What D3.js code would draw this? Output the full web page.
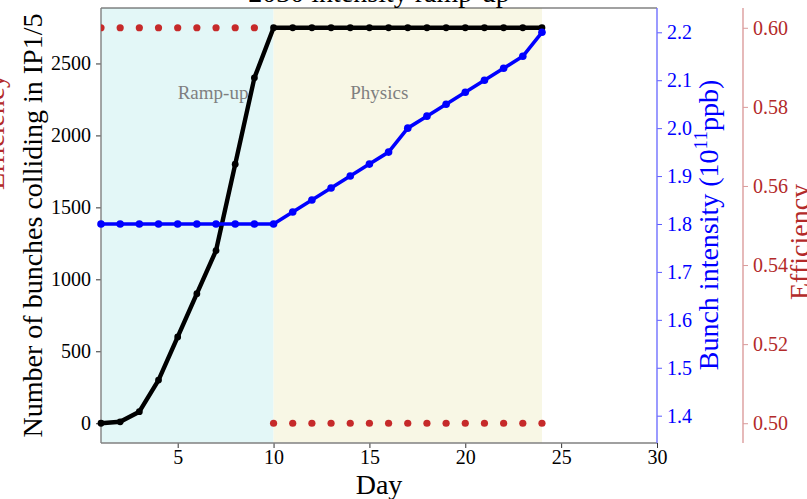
<!DOCTYPE html>
<html>
<head>
<meta charset="utf-8">
<script src="https://cdn.jsdelivr.net/npm/d3@7"></script>
<style>
  html, body { margin: 0; padding: 0; background: #fff; }
  svg, svg text { font-family: "Liberation Serif", "Times New Roman", serif; }
  svg { display: block; }
</style>
</head>
<body>
<svg id="chart"></svg>
<script>
// data
var days       = [1, 2, 3, 4, 5, 6, 7, 8, 9, 10, 11, 12, 13, 14, 15, 16, 17, 18, 19, 20, 21, 22, 23, 24];
var bunches    = [0, 10, 80, 300, 600, 900, 1200, 1800, 2400, 2748, 2748, 2748, 2748, 2748, 2748, 2748,
                  2748, 2748, 2748, 2748, 2748, 2748, 2748, 2748];
var intensity  = [1.8, 1.8, 1.8, 1.8, 1.8, 1.8, 1.8, 1.8, 1.8, 1.8, 1.825, 1.85, 1.875, 1.9, 1.925, 1.95,
                  2.0, 2.025, 2.05, 2.075, 2.1, 2.125, 2.15, 2.2];
var efficiency = [0.6, 0.6, 0.6, 0.6, 0.6, 0.6, 0.6, 0.6, 0.6, 0.5, 0.5, 0.5, 0.5, 0.5, 0.5, 0.5,
                  0.5, 0.5, 0.5, 0.5, 0.5, 0.5, 0.5, 0.5];
var phases     = [{name: "Ramp-up", from: 1, to: 10, labelAt: 5},
                  {name: "Physics", from: 10, to: 24, labelAt: 14}];
var xTicks     = [5, 10, 15, 20, 25, 30];
var bunchTicks = [0, 500, 1000, 1500, 2000, 2500];
var intTicks   = [1.4, 1.5, 1.6, 1.7, 1.8, 1.9, 2.0, 2.1, 2.2];
var effTicks   = [0.50, 0.52, 0.54, 0.56, 0.58, 0.60];

/*
	Canvas
 */
var W = 807, H = 499;
var plot = {left: 101, right: 657, top: 8, bottom: 443};
var redAxisX = 743;
var serif = '"Liberation Serif", "Times New Roman", serif';

var svg = d3.select('#chart').attr('width', W).attr('height', H);

var x  = d3.scaleLinear().domain([1, 30]).range([plot.left, plot.right]);
var yB = d3.scaleLinear().domain([-137.4, 2885.4]).range([plot.bottom, plot.top]);
var yI = d3.scaleLinear().domain([1.343, 2.2507]).range([plot.bottom, plot.top]);
var yE = d3.scaleLinear().domain([0.495, 0.605]).range([plot.bottom, plot.top]);

var blue = '#0000ff', red = '#c62a2a', redText = '#b32a2a';

svg.append('clipPath').attr('id', 'clip')
	.append('rect')
	.attr('x', plot.left).attr('y', plot.top)
	.attr('width', plot.right - plot.left).attr('height', plot.bottom - plot.top);

// phase backgrounds
var spanColors = ['#e3f7f7', '#f8f7e5'];
svg.selectAll('rect.span').data(phases).enter().append('rect')
	.attr('class', 'span')
	.attr('x', function(d){ return x(d.from); })
	.attr('y', plot.top)
	.attr('width', function(d){ return x(d.to) - x(d.from); })
	.attr('height', plot.bottom - plot.top)
	.attr('fill', function(d, i){ return spanColors[i]; });

svg.selectAll('text.phase').data(phases).enter().append('text')
	.attr('class', 'phase')
	.attr('x', function(d){ return x(d.labelAt); })
	.attr('y', yB(2250))
	.attr('fill', '#7f7f7f')
	.attr('font-size', 19)
	.text(function(d){ return d.name; });

/*
	Axes
 */
function styleAxis(g, color, textColor){
	g.attr('font-family', serif).attr('font-size', 20);
	g.select('.domain').remove();
	g.selectAll('.tick line').attr('stroke', color);
	g.selectAll('.tick text').attr('fill', textColor);
}

var gx = svg.append('g').attr('transform', 'translate(0,' + plot.bottom + ')')
	.call(d3.axisBottom(x).tickValues(xTicks).tickSize(5).tickPadding(2).tickFormat(d3.format('d')));
styleAxis(gx, '#333', '#000');

var gl = svg.append('g').attr('transform', 'translate(' + plot.left + ',0)')
	.call(d3.axisLeft(yB).tickValues(bunchTicks).tickSize(5).tickPadding(5).tickFormat(d3.format('d')));
styleAxis(gl, '#333', '#000');

var gi = svg.append('g').attr('transform', 'translate(' + plot.right + ',0)')
	.call(d3.axisRight(yI).tickValues(intTicks).tickSize(5).tickPadding(5).tickFormat(d3.format('.1f')));
styleAxis(gi, '#5a5aff', blue);

var ge = svg.append('g').attr('transform', 'translate(' + redAxisX + ',0)')
	.call(d3.axisRight(yE).tickValues(effTicks).tickSize(5).tickPadding(5).tickFormat(d3.format('.2f')));
styleAxis(ge, '#d99a9a', redText);

// spines
svg.append('line').attr('x1', plot.left).attr('x2', plot.right).attr('y1', plot.top).attr('y2', plot.top)
	.attr('stroke', '#444').attr('stroke-width', 1.2);
svg.append('line').attr('x1', plot.left).attr('x2', plot.right).attr('y1', plot.bottom).attr('y2', plot.bottom)
	.attr('stroke', '#808080').attr('stroke-width', 1.4);
svg.append('line').attr('x1', plot.left).attr('x2', plot.left).attr('y1', plot.top).attr('y2', plot.bottom)
	.attr('stroke', '#808080').attr('stroke-width', 1.4);
svg.append('line').attr('x1', plot.right).attr('x2', plot.right).attr('y1', plot.top).attr('y2', plot.bottom)
	.attr('stroke', '#7070ff').attr('stroke-width', 1.4);
svg.append('line').attr('x1', redAxisX).attr('x2', redAxisX).attr('y1', plot.top).attr('y2', plot.bottom)
	.attr('stroke', '#dc9c9c').attr('stroke-width', 1.4);

/*
	Series
 */
var layer = svg.append('g').attr('clip-path', 'url(#clip)');

// efficiency dots
layer.selectAll('circle.eff').data(days).enter().append('circle')
	.attr('class', 'eff')
	.attr('cx', function(d){ return x(d); })
	.attr('cy', function(d, i){ return yE(efficiency[i]); })
	.attr('r', 3.6)
	.attr('fill', red);

// bunches
var lineB = d3.line().x(function(d){ return x(d); }).y(function(d, i){ return yB(bunches[i]); });
svg.append('path').datum(days).attr('d', lineB)
	.attr('fill', 'none').attr('stroke', '#000').attr('stroke-width', 4.4).attr('stroke-linejoin', 'round');
svg.selectAll('circle.bun').data(days).enter().append('circle')
	.attr('class', 'bun')
	.attr('cx', function(d){ return x(d); })
	.attr('cy', function(d, i){ return yB(bunches[i]); })
	.attr('r', 3.4)
	.attr('fill', '#000');

// intensity
var lineI = d3.line().x(function(d){ return x(d); }).y(function(d, i){ return yI(intensity[i]); });
svg.append('path').datum(days).attr('d', lineI)
	.attr('fill', 'none').attr('stroke', blue).attr('stroke-width', 3.6).attr('stroke-linejoin', 'round');
svg.selectAll('circle.int').data(days).enter().append('circle')
	.attr('class', 'int')
	.attr('cx', function(d){ return x(d); })
	.attr('cy', function(d, i){ return yI(intensity[i]); })
	.attr('r', 3.8)
	.attr('fill', blue);

/*
	Labels
 */
svg.append('text').attr('x', (plot.left + plot.right) / 2).attr('y', 1.5)
	.attr('text-anchor', 'middle').attr('font-size', 28).attr('fill', '#000')
	.text('2030 intensity ramp-up');

svg.append('text').attr('x', (plot.left + plot.right) / 2).attr('y', 494)
	.attr('text-anchor', 'middle').attr('font-size', 28).attr('fill', '#000')
	.text('Day');

svg.append('text').attr('transform', 'translate(42,' + (plot.top + plot.bottom) / 2 + ') rotate(-90)')
	.attr('text-anchor', 'middle').attr('font-size', 28).attr('fill', '#000')
	.text('Number of bunches colliding in IP1/5');

var bl = svg.append('text').attr('transform', 'translate(718,225) rotate(-90)')
	.attr('text-anchor', 'middle').attr('font-size', 28).attr('fill', blue);
bl.append('tspan').text('Bunch intensity (10');
bl.append('tspan').attr('font-size', 19).attr('dy', -11).text('11');
bl.append('tspan').attr('dy', 11).text('ppb)');

svg.append('text').attr('transform', 'translate(4,190) rotate(-90)')
	.attr('text-anchor', 'start').attr('font-size', 28).attr('fill', redText)
	.text('Efficiency');

svg.append('text').attr('transform', 'translate(809,300) rotate(-90)')
	.attr('text-anchor', 'start').attr('font-size', 28).attr('fill', redText)
	.text('Efficiency');
</script>
</body>
</html>
